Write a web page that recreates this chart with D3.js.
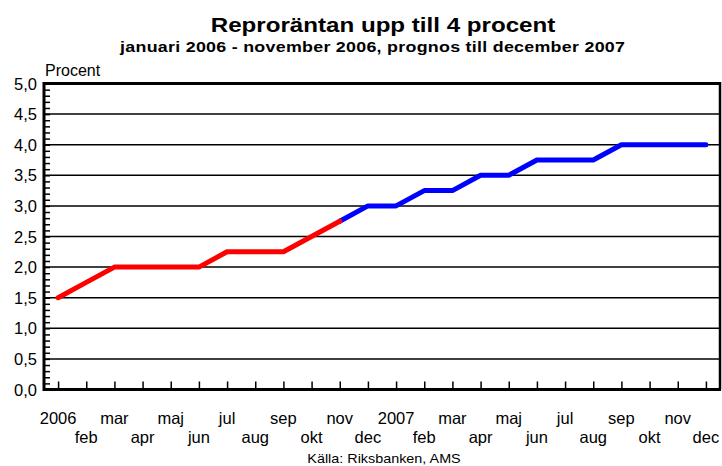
<!DOCTYPE html>
<html>
<head>
<meta charset="utf-8">
<script src="https://cdn.jsdelivr.net/npm/d3@7"></script>
<style>
  body { margin: 0; background: #fff; }
  svg { display: block; font-family: "Liberation Sans", Arial, sans-serif; }
</style>
</head>
<body>
<svg id="chart" width="722" height="466"></svg>
<script>
// months jan 2006 .. dec 2007
const months = ["2006","feb","mar","apr","maj","jun","jul","aug","sep","okt","nov","dec",
                "2007","feb","mar","apr","maj","jun","jul","aug","sep","okt","nov","dec"];
// utfall jan-nov 2006
const actual = [1.5, 1.75, 2.0, 2.0, 2.0, 2.0, 2.25, 2.25, 2.25, 2.5, 2.75];
// prognos nov 2006 - dec 2007
const forecast = [2.75, 3.0, 3.0, 3.25, 3.25, 3.5, 3.5, 3.75, 3.75, 3.75, 4.0, 4.0, 4.0, 4.0];
const yTicks = [0, 0.5, 1, 1.5, 2, 2.5, 3, 3.5, 4, 4.5, 5];

const svg = d3.select("#chart");
const pLeft = 44, pRight = 720, pTop = 83.5, pBottom = 389.5;

const x = d3.scalePoint()
    .domain(d3.range(months.length))
    .range([pLeft, pRight])
    .padding(0.5);
const y = d3.scaleLinear().domain([0, 5]).range([pBottom, pTop]);

const fmt = d => d3.format(".1f")(d).replace(".", ",");

// title
svg.append("text")
    .attr("transform", "translate(383,32) scale(1.15,1)")
    .attr("text-anchor", "middle")
    .attr("font-weight", "bold")
    .attr("font-size", 21)
    .text("Reproräntan upp till 4 procent");
svg.append("text")
    .attr("transform", "translate(372.5,52) scale(1.15,1)")
    .attr("text-anchor", "middle")
    .attr("font-weight", "bold")
    .attr("font-size", 15.5)
    .attr("textLength", 439)
    .attr("lengthAdjust", "spacing")
    .text("januari 2006 - november 2006, prognos till december 2007");
svg.append("text")
    .attr("x", 45).attr("y", 76)
    .attr("font-size", 16)
    .text("Procent");

// grid lines
svg.append("g").selectAll("line")
    .data(yTicks.slice(1, -1))
    .join("line")
    .attr("x1", pLeft).attr("x2", pRight)
    .attr("y1", d => y(d)).attr("y2", d => y(d))
    .attr("stroke", "#000").attr("stroke-width", 1.5);

// y axis with minor ticks pointing inward
const yAxis = d3.axisRight(y)
    .tickValues(d3.range(0, 5.01, 0.1))
    .tickSize(6)
    .tickFormat("");
const gy = svg.append("g").attr("transform", `translate(${pLeft},0)`).call(yAxis);
gy.select(".domain").remove();
gy.selectAll(".tick line").attr("stroke-width", 1.5);

svg.append("g").selectAll("text")
    .data(yTicks)
    .join("text")
    .attr("x", 37).attr("y", d => y(d) + 6)
    .attr("text-anchor", "end")
    .attr("font-size", 16.5)
    .text(fmt);

// x axis ticks upward
const xAxis = d3.axisTop(x).tickSize(8).tickFormat("");
const gx = svg.append("g").attr("transform", `translate(0,${pBottom})`).call(xAxis);
gx.select(".domain").remove();
gx.selectAll(".tick line").attr("stroke-width", 1.5);

svg.append("g").selectAll("text")
    .data(months)
    .join("text")
    .attr("x", (d, i) => x(i))
    .attr("y", (d, i) => i % 2 === 0 ? 424 : 443)
    .attr("text-anchor", "middle")
    .attr("font-size", 16.5)
    .text(d => d);

// frame
svg.append("line").attr("x1", pLeft).attr("x2", pRight).attr("y1", pTop).attr("y2", pTop)
    .attr("stroke", "#000").attr("stroke-width", 3);
svg.append("line").attr("x1", pRight).attr("x2", pRight).attr("y1", pTop - 1.5).attr("y2", pBottom)
    .attr("stroke", "#000").attr("stroke-width", 2.5);
svg.append("line").attr("x1", pLeft).attr("x2", pLeft).attr("y1", pTop - 1.5).attr("y2", pBottom + 1.5)
    .attr("stroke", "#000").attr("stroke-width", 3);
svg.append("line").attr("x1", pLeft).attr("x2", pRight + 1).attr("y1", pBottom).attr("y2", pBottom)
    .attr("stroke", "#000").attr("stroke-width", 3);

// series
const line = d3.line().x(d => x(d[0])).y(d => y(d[1]));
svg.append("path")
    .datum(forecast.map((v, i) => [i + actual.length - 1, v]))
    .attr("d", line)
    .attr("fill", "none").attr("stroke", "#0000ff")
    .attr("stroke-width", 5).attr("stroke-linecap", "round").attr("stroke-linejoin", "round");
svg.append("path")
    .datum(actual.map((v, i) => [i, v]))
    .attr("d", line)
    .attr("fill", "none").attr("stroke", "#ff0000")
    .attr("stroke-width", 5).attr("stroke-linecap", "round").attr("stroke-linejoin", "round");

svg.append("text")
    .attr("transform", "translate(384,463) scale(1.15,1)")
    .attr("text-anchor", "middle")
    .attr("font-size", 12.5)
    .text("Källa: Riksbanken, AMS");
</script>
</body>
</html>
